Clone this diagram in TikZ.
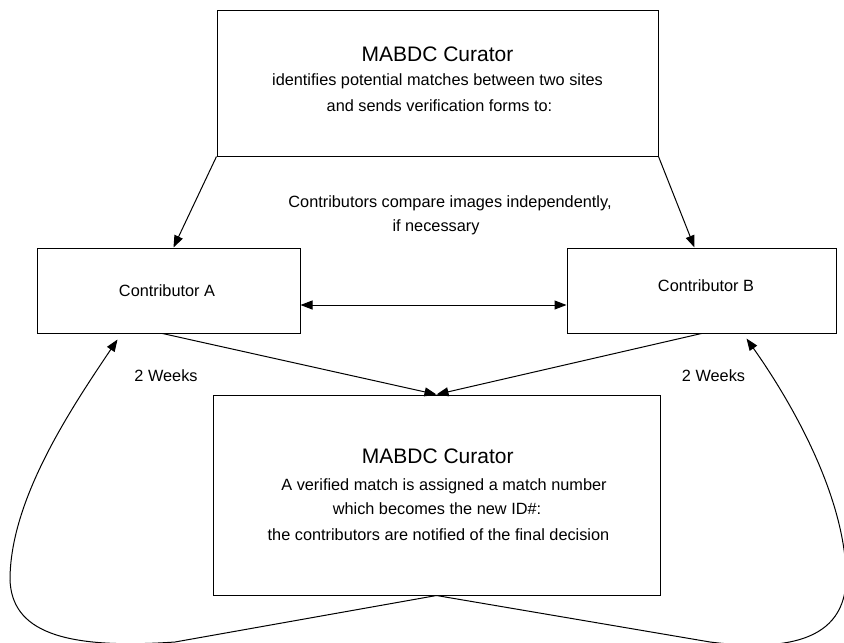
\documentclass[tikz,border=0pt]{standalone}
\usepackage{fontspec}
\setmainfont{Liberation Sans}
\usetikzlibrary{arrows.meta}
\begin{document}
\begin{tikzpicture}[x=1pt,y=-1pt,
  box/.style={draw, line width=1pt, rectangle, inner sep=0pt},
  lbl/.style={anchor=base, inner sep=0pt, font=\fontsize{16.3}{20}\selectfont},
  ttl/.style={anchor=base, inner sep=0pt, font=\fontsize{21}{25}\selectfont},
  arr/.style={line width=1pt, -{Triangle[length=12pt,width=9pt]}},
  darr/.style={line width=1pt, {Triangle[length=12pt,width=9pt]}-{Triangle[length=12pt,width=9pt]}}]
\useasboundingbox (0,0) rectangle (844,643);
% boxes
\node[box, minimum width=441pt, minimum height=146pt] (top) at (437.5,83) {};
\node[box, minimum width=263pt, minimum height=85pt] (A) at (168.5,290.5) {};
\node[box, minimum width=269pt, minimum height=85pt] (B) at (701.5,290.5) {};
\node[box, minimum width=447pt, minimum height=200pt] (bot) at (436.5,495) {};
% texts
\node[ttl] (t1) at (437.5,61) {MABDC Curator};
\node[lbl] (t2) at (437.5,85) {identifies potential matches between two sites};
\node[lbl] (t3) at (439.5,111) {and sends verification forms to:};
\node[lbl] (m1) at (450,207) {Contributors compare images independently,};
\node[lbl] (m2) at (436,231) {if necessary};
\node[lbl] (ca) at (167,296) {Contributor A};
\node[lbl] (cb) at (706,291) {Contributor B};
\node[lbl] (wa) at (166,381) {2 Weeks};
\node[lbl] (wb) at (713.5,381) {2 Weeks};
\node[ttl] (b1) at (437.7,463) {MABDC Curator};
\node[lbl] (b2) at (444,490) {A verified match is assigned a match number};
\node[lbl] (b3) at (437,514) {which becomes the new ID\#:};
\node[lbl] (b4) at (438.5,540) {the contributors are notified of the final decision};
% connectors
\draw[arr] (top.south west) -- ([xshift=137pt]A.north west);
\draw[arr] (top.south east) -- ([xshift=128pt]B.north west);
\draw[darr] ([yshift=-14.5pt]A.east) -- ([yshift=-14.5pt]B.west);
\draw[arr] ([xshift=126pt]A.south west) -- (bot.north);
\draw[arr] ([xshift=135pt]B.south west) -- (bot.north);
\draw[arr] (bot.south) -- (175,642) .. controls (60,650) and (12,630) .. (10,580)
  .. controls (10,500) and (70,410) .. ([xshift=81pt,yshift=-6pt]A.south west);
\draw[arr] (bot.south) -- (710,642) .. controls (790,652) and (850,640) .. (846,570)
  .. controls (842,490) and (790,400) .. ([xshift=180pt,yshift=-5pt]B.south west);
\end{tikzpicture}
\end{document}
